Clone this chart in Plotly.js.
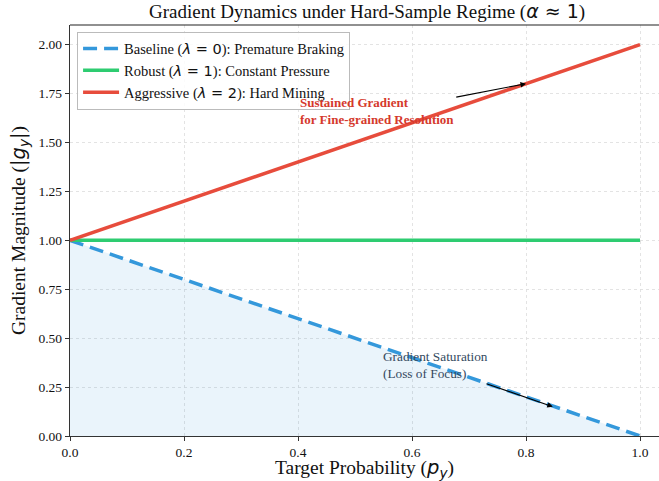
<!DOCTYPE html>
<html>
<head>
<meta charset="utf-8">
<script src="https://cdn.plot.ly/plotly-3.0.1.min.js"></script>
<style>html,body{margin:0;padding:0;overflow:hidden;background:#fff;}</style>
</head>
<body>
<div id="chart" style="width:659px;height:481px;"></div>
<script>
const pY = [0, 0.25, 0.5, 0.75, 1];
const baseline = [1, 0.75, 0.5, 0.25, 0];
const robust = [1, 1, 1, 1, 1];
const aggressive = [1, 1.25, 1.5, 1.75, 2];
const xTicks = [0, 0.2, 0.4, 0.6, 0.8, 1.0];
const yTicks = [0, 0.25, 0.5, 0.75, 1.0, 1.25, 1.5, 1.75, 2.0];

const serif = "Liberation Serif, Times New Roman, serif";
const M = s => '<span style="font-family:DejaVu Sans">' + s + '</span>';

const traces = [
  {x: pY, y: baseline, mode: 'lines', fill: 'tozeroy', fillcolor: 'rgba(52,152,219,0.1)',
   line: {width: 0, color: 'rgba(0,0,0,0)'}, showlegend: false, hoverinfo: 'skip'},
  {x: pY, y: baseline, mode: 'lines', name: 'Baseline (' + M('<i>λ</i> = 0') + '): Premature Braking',
   line: {color: '#3498db', width: 3.5, dash: '14px,7px'}},
  {x: pY, y: robust, mode: 'lines', name: 'Robust (' + M('<i>λ</i> = 1') + '): Constant Pressure',
   line: {color: '#2ecc71', width: 3.5}},
  {x: pY, y: aggressive, mode: 'lines', name: 'Aggressive (' + M('<i>λ</i> = 2') + '): Hard Mining',
   line: {color: '#e74c3c', width: 3.5}}
];

const layout = {
  width: 659, height: 481,
  margin: {l: 70, r: 0, t: 24.5, b: 45},
  paper_bgcolor: '#fff', plot_bgcolor: '#fff',
  font: {family: serif, size: 13, color: '#222'},
  title: {text: 'Gradient Dynamics under Hard-Sample Regime (' + M('<i>α</i> ≈ 1') + ')',
          font: {family: serif, size: 19, color: '#111'}, x: 0.557, xanchor: 'center', y: 0.977, yanchor: 'middle'},
  xaxis: {range: [0, 1.0333], tickvals: xTicks, ticktext: xTicks.map(v => v.toFixed(1)),
          showgrid: true, gridcolor: '#dcdcdc', griddash: 'dot', gridwidth: 0.8,
          showline: true, linecolor: '#333', linewidth: 1.2, ticks: 'outside', ticklen: 4, tickcolor: '#333',
          zeroline: false, tickfont: {size: 13.5, family: serif, color: '#111'},
          title: {text: 'Target Probability (' + M('<i>p<sub>y</sub></i>') + ')', font: {size: 19.5, family: serif, color: '#111'}, standoff: 5}},
  yaxis: {range: [0, 2.1], tickvals: yTicks, ticktext: yTicks.map(v => v.toFixed(2)),
          showgrid: true, gridcolor: '#dcdcdc', griddash: 'dot', gridwidth: 0.8,
          showline: true, linecolor: '#333', linewidth: 1.2, ticks: 'outside', ticklen: 4, tickcolor: '#333',
          zeroline: false, tickfont: {size: 13.5, family: serif, color: '#111'},
          title: {text: 'Gradient Magnitude (' + M('|<i>g<sub>y</sub></i>|') + ')', font: {size: 19.5, family: serif, color: '#111'}, standoff: 7}},
  legend: {x: 0.012, y: 0.984, xanchor: 'left', yanchor: 'top', bgcolor: 'rgba(255,255,255,0.85)',
           bordercolor: '#bbb', borderwidth: 1, font: {size: 14.5, family: serif, color: '#111'},
           tracegroupgap: 0, itemwidth: 36},
  shapes: [{type: 'line', xref: 'paper', yref: 'paper', x0: 0, x1: 1, y0: 1, y1: 1, line: {color: '#222', width: 1.2}}],
  annotations: [
    {x: 0.4, y: 1.57, xref: 'x', yref: 'y', xanchor: 'left', yanchor: 'bottom', align: 'left', showarrow: false,
     text: '<b>Sustained Gradient<br>for Fine-grained Resolution</b>', font: {size: 13, family: serif, color: '#d5392c'}},
    {x: 0.8, y: 1.8, ax: 0.675, ay: 1.73, xref: 'x', yref: 'y', axref: 'x', ayref: 'y', text: '', showarrow: true,
     arrowhead: 2, arrowsize: 1, arrowwidth: 1.1, arrowcolor: '#000'},
    {x: 0.545, y: 0.27, xref: 'x', yref: 'y', xanchor: 'left', yanchor: 'bottom', align: 'left', showarrow: false,
     text: 'Gradient Saturation<br>(Loss of Focus)', font: {size: 13.3, family: serif, color: '#34495e'}},
    {x: 0.847, y: 0.15, ax: 0.728, ay: 0.27, xref: 'x', yref: 'y', axref: 'x', ayref: 'y', text: '', showarrow: true,
     arrowhead: 2, arrowsize: 1, arrowwidth: 1.1, arrowcolor: '#000'}
  ]
};

Plotly.newPlot('chart', traces, layout, {displayModeBar: false, staticPlot: true});
</script>
</body>
</html>
